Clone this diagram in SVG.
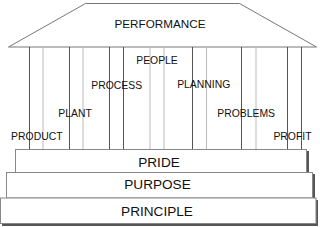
<svg xmlns="http://www.w3.org/2000/svg" width="320" height="227" viewBox="0 0 320 227">
<style>
text{font-family:"Liberation Sans",Arial,sans-serif;fill:#111;text-anchor:middle}
.lbl{font-size:10.4px}
.big{font-size:13.6px}
.roof{font-size:11.7px}
.cd{stroke:#555;stroke-width:1}
.cl{stroke:#bbb;stroke-width:1}
.step{fill:#fff;stroke:#888;stroke-width:1}
.shadow{fill:#555}
</style>
<rect width="320" height="227" fill="#fff"/>
<g id="roof">
<polygon points="85.5,3.5 239.5,3.5 316.5,47 8.5,47" fill="#fff" stroke="#777" stroke-width="1"/>
<text class="roof" x="160" y="27.5">PERFORMANCE</text>
</g>
<g id="columns">
<line class="cd" x1="29.5" y1="47" x2="29.5" y2="149"/>
<line class="cl" x1="43" y1="47" x2="43" y2="149"/>
<line class="cd" x1="69.5" y1="47" x2="69.5" y2="149"/>
<line class="cl" x1="83" y1="47" x2="83" y2="149"/>
<line class="cd" x1="109.5" y1="47" x2="109.5" y2="149"/>
<line class="cd" x1="123.5" y1="47" x2="123.5" y2="149"/>
<line class="cl" x1="150" y1="47" x2="150" y2="149"/>
<line class="cl" x1="164" y1="47" x2="164" y2="149"/>
<line class="cd" x1="192.5" y1="47" x2="192.5" y2="149"/>
<line class="cl" x1="206.5" y1="47" x2="206.5" y2="149"/>
<line class="cd" x1="241.5" y1="47" x2="241.5" y2="149"/>
<line class="cl" x1="256" y1="47" x2="256" y2="149"/>
<line class="cd" x1="287.5" y1="47" x2="287.5" y2="149"/>
<line class="cd" x1="301.5" y1="47" x2="301.5" y2="149"/>
</g>
<g id="people"><text class="lbl" x="157" y="63.7">PEOPLE</text></g>
<g id="process"><text class="lbl" x="116.7" y="88.7">PROCESS</text></g>
<g id="planning"><text class="lbl" x="203.7" y="88">PLANNING</text></g>
<g id="plant"><text class="lbl" x="75" y="117">PLANT</text></g>
<g id="problems"><text class="lbl" x="246.2" y="117">PROBLEMS</text></g>
<g id="product"><text class="lbl" x="36.8" y="140.3">PRODUCT</text></g>
<g id="profit"><text class="lbl" x="292.5" y="140.3">PROFIT</text></g>
<g id="pride">
<rect class="shadow" x="17" y="151" width="292" height="23"/>
<rect class="step" x="15.5" y="149.5" width="291" height="23"/>
<text class="big" x="159" y="166.5">PRIDE</text>
</g>
<g id="purpose">
<rect class="shadow" x="8" y="174" width="307" height="26"/>
<rect class="step" x="6.5" y="172.5" width="306" height="25.5"/>
<text class="big" x="157.5" y="189">PURPOSE</text>
</g>
<g id="principle">
<rect class="shadow" x="2" y="200" width="316" height="26"/>
<rect class="step" x="0.5" y="198" width="315.5" height="25.5"/>
<text class="big" x="157" y="215.8">PRINCIPLE</text>
</g>
</svg>
